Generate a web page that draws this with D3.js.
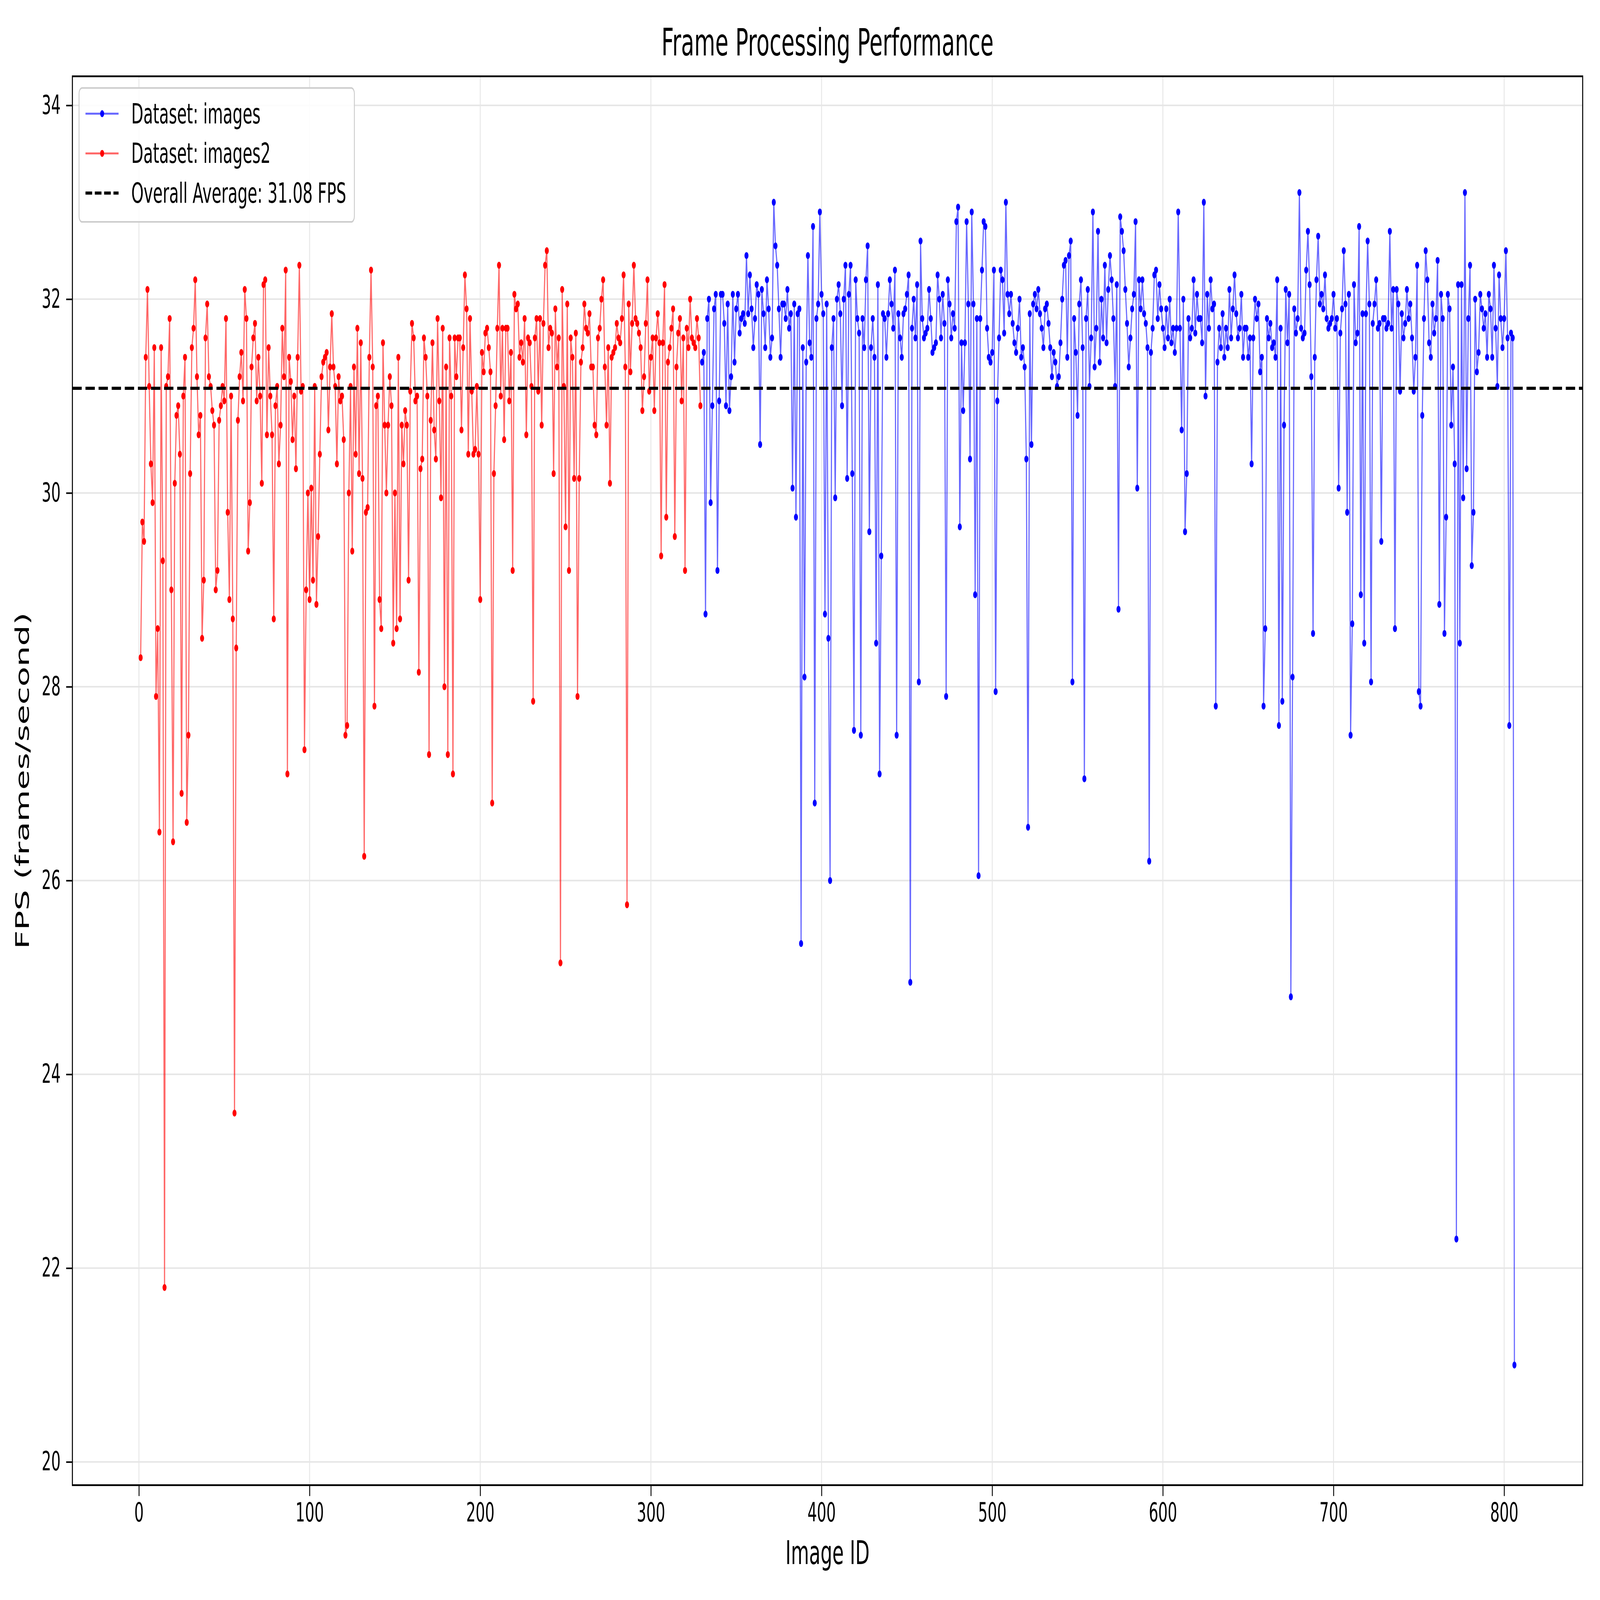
<!DOCTYPE html>
<html>
<head>
<meta charset="utf-8">
<script src="https://cdn.jsdelivr.net/npm/d3@7"></script>
<style>
  html, body { margin: 0; padding: 0; background: #ffffff; overflow: hidden; }
  #chart-container { width: 100vw; height: 100vh; }
  svg { display: block; width: 100vw; height: 100vh; }
  text { font-family: "DejaVu Sans", sans-serif; fill: #000; }
</style>
</head>
<body>
<div id="chart-container"></div>
<script>
// data (one FPS value per image id)
const images2StartId = 1;
const images2Fps = [
  28.3,29.7,29.5,31.4,32.1,31.1,30.3,29.9,31.5,27.9,
  28.6,26.5,31.5,29.3,21.8,31.1,31.2,31.8,29.0,26.4,
  30.1,30.8,30.9,30.4,26.9,31.0,31.4,26.6,27.5,30.2,
  31.5,31.7,32.2,31.2,30.6,30.8,28.5,29.1,31.6,31.95,
  31.2,31.1,30.85,30.7,29.0,29.2,30.75,30.9,31.1,30.95,
  31.8,29.8,28.9,31.0,28.7,23.6,28.4,30.75,31.2,31.45,
  30.95,32.1,31.8,29.4,29.9,31.3,31.6,31.75,30.95,31.4,
  31.0,30.1,32.15,32.2,30.6,31.5,31.0,30.6,28.7,30.9,
  31.1,30.3,30.7,31.7,31.2,32.3,27.1,31.4,31.15,30.55,
  31.0,30.25,31.4,32.35,31.05,31.1,27.35,29.0,30.0,28.9,
  30.05,29.1,31.1,28.85,29.55,30.4,31.2,31.35,31.4,31.45,
  30.65,31.3,31.85,31.3,31.1,30.3,31.2,30.95,31.0,30.55,
  27.5,27.6,30.0,31.1,29.4,31.3,30.4,31.7,30.2,31.55,
  30.15,26.25,29.8,29.85,31.4,32.3,31.3,27.8,30.9,31.0,
  28.9,28.6,31.55,30.7,30.0,30.7,31.2,30.9,28.45,30.0,
  28.6,31.4,28.7,30.7,30.3,30.85,30.7,29.1,31.05,31.75,
  31.6,30.95,31.0,28.15,30.25,30.35,31.6,31.4,31.0,27.3,
  30.75,31.55,30.65,30.35,31.8,30.95,29.95,31.7,28.0,31.3,
  27.3,31.6,31.0,27.1,31.6,31.2,31.6,31.6,30.65,31.5,
  32.25,31.9,30.4,31.8,31.05,30.4,30.45,31.1,30.4,28.9,
  31.45,31.25,31.65,31.7,31.5,31.25,26.8,30.2,30.9,31.7,
  32.35,31.0,31.7,30.55,31.7,31.7,30.95,31.45,29.2,32.05,
  31.9,31.95,31.4,31.55,31.35,31.8,30.6,31.6,31.55,31.1,
  27.85,31.6,31.8,31.05,31.8,30.7,31.75,32.35,32.5,31.5,
  31.7,31.65,30.2,31.9,31.3,31.6,25.15,32.1,31.1,29.65,
  31.95,29.2,31.6,31.4,30.15,31.65,27.9,30.15,31.35,31.5,
  31.95,31.7,31.65,31.85,31.3,31.3,30.7,30.6,31.6,31.7,
  32.0,32.2,31.3,30.7,31.5,30.1,31.4,31.45,31.5,31.75,
  31.6,31.55,31.8,32.25,31.3,25.75,31.95,31.25,31.75,32.35,
  31.8,31.75,31.65,31.5,30.85,31.2,31.75,32.2,31.05,31.4,
  31.6,30.85,31.6,31.85,31.55,29.35,31.55,32.15,29.75,31.35,
  31.5,31.7,31.9,29.55,31.3,31.65,31.8,30.95,31.6,29.2,
  31.7,31.5,32.0,31.6,31.55,31.5,31.8,31.6,30.9
];

const imagesStartId = 330;
const imagesFps = [
  31.35,31.45,28.75,31.8,32.0,29.9,30.9,31.9,32.05,29.2,
  30.95,32.05,32.05,31.75,30.9,31.95,30.85,31.2,32.05,31.35,
  31.9,32.05,31.65,31.8,31.85,31.75,32.45,31.85,32.25,31.9,
  31.5,31.8,32.15,32.05,30.5,32.1,31.85,31.5,32.2,31.9,
  31.4,31.6,33.0,32.55,32.35,31.9,31.4,31.95,31.95,31.8,
  32.1,31.7,31.85,30.05,31.95,29.75,31.85,31.9,25.35,31.5,
  28.1,31.35,32.45,31.55,31.4,32.75,26.8,31.8,31.95,32.9,
  32.05,31.85,28.75,31.95,28.5,26.0,31.5,31.8,29.95,32.0,
  32.15,31.85,30.9,32.0,32.35,30.15,32.05,32.35,30.2,27.55,
  32.2,31.8,31.65,27.5,31.8,31.5,32.2,32.55,29.6,31.5,
  31.8,31.4,28.45,32.15,27.1,29.35,31.85,31.8,31.4,31.85,
  32.2,31.95,31.7,32.3,27.5,31.85,31.6,31.4,31.85,31.9,
  32.05,32.25,24.95,31.7,32.0,31.6,32.15,28.05,32.6,31.8,
  31.6,31.65,31.7,32.1,31.8,31.45,31.5,31.55,32.25,32.0,
  31.6,32.05,31.75,27.9,32.2,31.95,31.6,31.85,31.7,32.8,
  32.95,29.65,31.55,30.85,31.55,32.8,31.95,30.35,32.9,31.95,
  28.95,31.8,26.05,31.8,32.3,32.8,32.75,31.7,31.4,31.35,
  31.45,32.3,27.95,30.95,31.6,32.3,32.2,31.65,33.0,32.05,
  31.85,32.05,31.75,31.55,31.45,31.7,32.0,31.4,31.5,31.3,
  30.35,26.55,31.85,30.5,31.95,32.05,31.9,32.1,31.85,31.7,
  31.5,31.9,31.95,31.75,31.5,31.2,31.45,31.35,31.1,31.2,
  31.55,32.0,32.35,32.4,31.4,32.45,32.6,28.05,31.8,31.45,
  30.8,31.95,32.2,31.5,27.05,31.8,32.1,31.1,31.6,32.9,
  31.3,31.7,32.7,31.35,32.0,31.6,32.35,31.55,32.1,32.45,
  32.2,31.8,31.1,32.15,28.8,32.85,32.7,32.5,32.1,31.75,
  31.3,31.6,31.9,32.05,32.8,30.05,32.2,31.9,32.2,31.85,
  31.75,31.5,26.2,31.45,31.7,32.25,32.3,31.8,32.15,31.9,
  31.7,31.5,31.9,31.6,32.0,31.55,31.7,31.45,31.7,32.9,
  31.7,30.65,32.0,29.6,30.2,31.8,31.6,31.7,32.2,31.65,
  32.05,31.8,31.8,31.55,33.0,31.0,32.05,31.7,32.2,31.9,
  31.95,27.8,31.35,31.7,31.5,31.85,31.4,31.7,31.5,32.1,
  31.6,31.9,32.25,31.85,31.6,31.7,32.05,31.4,31.7,31.7,
  31.4,31.6,30.3,31.6,32.0,31.8,31.95,31.25,31.4,27.8,
  28.6,31.8,31.6,31.75,31.5,31.55,31.4,32.2,27.6,31.7,
  27.85,30.7,32.1,31.55,32.05,24.8,28.1,31.9,31.65,31.8,
  33.1,31.7,31.6,31.65,32.3,32.7,32.15,31.2,28.55,31.4,
  32.2,32.65,31.95,32.05,31.9,32.25,31.8,31.7,31.75,31.8,
  32.05,31.7,31.8,30.05,31.65,31.9,32.5,31.95,29.8,32.05,
  27.5,28.65,32.15,31.55,31.65,32.75,28.95,31.85,28.45,31.85,
  32.6,31.95,28.05,31.75,31.95,32.2,31.7,31.75,29.5,31.8,
  31.8,31.7,31.75,32.7,31.7,32.1,28.6,32.1,31.95,31.05,
  31.85,31.6,31.75,32.1,31.8,31.95,31.6,31.05,31.4,32.35,
  27.95,27.8,30.8,31.8,32.5,32.2,31.55,31.4,31.95,31.65,
  31.8,32.4,28.85,32.05,31.8,28.55,29.75,32.05,31.9,30.7,
  31.3,30.3,22.3,32.15,28.45,32.15,29.95,33.1,30.25,31.8,
  32.35,29.25,29.8,32.0,31.25,31.45,32.05,31.9,31.7,31.85,
  31.4,32.05,31.9,31.4,32.35,31.7,31.1,32.25,31.8,31.5,
  31.8,32.5,31.6,27.6,31.65,31.6,21.0
];

const overallAverage = 31.08;
const xTickValues = [0, 100, 200, 300, 400, 500, 600, 700, 800];
const yTickValues = [20, 22, 24, 26, 28, 30, 32, 34];
const legendLabels = [
  "Dataset: images",
  "Dataset: images2",
  "Overall Average: 31.08 FPS"
];

/** CONSTANTS */
// drawing units match the 7206 x 4110 reference; the viewBox stretches it over the window
const width = 7206,
  height = 4110;
let margin = { top: 196, bottom: 295, left: 326, right: 78 };
const colors = { images: "#0000ff", images2: "#ff0000" };

const toPoints = (arr, start) => arr.map((v, i) => ({ id: start + i, fps: v }));
const imagesData = toPoints(imagesFps, imagesStartId);
const images2Data = toPoints(images2Fps, images2StartId);

/** SCALES */
const xScale = d3
  .scaleLinear()
  .domain([-39, 846])
  .range([margin.left, width - margin.right]);

const yScale = d3
  .scaleLinear()
  .domain([19.76, 34.3])
  .range([height - margin.bottom, margin.top]);

/** MAIN CODE */
const svg = d3
  .select("#chart-container")
  .append("svg")
  .attr("viewBox", `0 0 ${width} ${height}`)
  .attr("preserveAspectRatio", "none");

svg.append("rect").attr("width", width).attr("height", height).attr("fill", "#ffffff");

// grid
const grid = svg.append("g").attr("class", "grid");
grid
  .selectAll("line.vgrid")
  .data(xTickValues)
  .join("line")
  .attr("class", "vgrid")
  .attr("x1", (d) => xScale(d))
  .attr("x2", (d) => xScale(d))
  .attr("y1", margin.top)
  .attr("y2", height - margin.bottom)
  .attr("stroke", "#e6e6e6")
  .attr("stroke-width", 4);
grid
  .selectAll("line.hgrid")
  .data(yTickValues)
  .join("line")
  .attr("class", "hgrid")
  .attr("y1", (d) => yScale(d))
  .attr("y2", (d) => yScale(d))
  .attr("x1", margin.left)
  .attr("x2", width - margin.right)
  .attr("stroke", "#e6e6e6")
  .attr("stroke-width", 4);

// series
const line = d3
  .line()
  .x((d) => xScale(d.id))
  .y((d) => yScale(d.fps));

const series = [
  { key: "images", data: imagesData },
  { key: "images2", data: images2Data }
];

series.forEach((s) => {
  const g = svg.append("g").attr("class", "series-" + s.key);
  g.append("path")
    .datum(s.data)
    .attr("d", line)
    .attr("fill", "none")
    .attr("stroke", colors[s.key])
    .attr("stroke-opacity", 0.6)
    .attr("stroke-width", 5)
    .attr("stroke-linejoin", "round");
  g.selectAll("circle")
    .data(s.data)
    .join("circle")
    .attr("cx", (d) => xScale(d.id))
    .attr("cy", (d) => yScale(d.fps))
    .attr("r", 9)
    .attr("fill", colors[s.key]);
});

// overall average
svg
  .append("line")
  .attr("class", "avg")
  .attr("x1", margin.left)
  .attr("x2", width - margin.right)
  .attr("y1", yScale(overallAverage))
  .attr("y2", yScale(overallAverage))
  .attr("stroke", "#000")
  .attr("stroke-width", 8)
  .attr("stroke-dasharray", "42,17");

/** AXIS */
const xAxis = d3.axisBottom(xScale).tickValues(xTickValues).tickSize(28).tickPadding(18);
const yAxis = d3.axisLeft(yScale).tickValues(yTickValues).tickSize(28).tickPadding(25);

const gx = svg
  .append("g")
  .attr("class", "x axis")
  .attr("transform", `translate(0,${height - margin.bottom})`)
  .call(xAxis);
const gy = svg
  .append("g")
  .attr("class", "y axis")
  .attr("transform", `translate(${margin.left},0)`)
  .call(yAxis);

[gx, gy].forEach((g) => {
  g.select(".domain").remove();
  g.selectAll(".tick line").attr("stroke", "#000").attr("stroke-width", 4);
  g.selectAll(".tick text")
    .attr("font-size", 67)
    .attr("font-family", "DejaVu Sans")
    .attr("fill", "#000");
});

// frame
svg
  .append("rect")
  .attr("x", margin.left)
  .attr("y", margin.top)
  .attr("width", width - margin.left - margin.right)
  .attr("height", height - margin.top - margin.bottom)
  .attr("fill", "none")
  .attr("stroke", "#000")
  .attr("stroke-width", 4.5);

// labels
svg
  .append("text")
  .attr("class", "title")
  .attr("x", (margin.left + width - margin.right) / 2)
  .attr("y", 143)
  .attr("text-anchor", "middle")
  .attr("font-size", 97)
  .text("Frame Processing Performance");

svg
  .append("text")
  .attr("class", "axis-label")
  .attr("x", (margin.left + width - margin.right) / 2)
  .attr("y", 4018)
  .attr("text-anchor", "middle")
  .attr("font-size", 84)
  .text("Image ID");

svg
  .append("text")
  .attr("class", "axis-label")
  .attr("transform", `translate(130,${(margin.top + height - margin.bottom) / 2}) rotate(-90)`)
  .attr("text-anchor", "middle")
  .attr("font-size", 84)
  .text("FPS (frames/second)");

/** LEGEND */
const legend = svg.append("g").attr("class", "legend").attr("transform", "translate(356,226)");
legend
  .append("rect")
  .attr("width", 1240)
  .attr("height", 344)
  .attr("rx", 14)
  .attr("fill", "#ffffff")
  .attr("fill-opacity", 0.85)
  .attr("stroke", "#cccccc")
  .attr("stroke-width", 4);

const legendItems = [
  { label: legendLabels[0], color: colors.images, dashed: false },
  { label: legendLabels[1], color: colors.images2, dashed: false },
  { label: legendLabels[2], color: "#000", dashed: true }
];

const rowY = d3.scalePoint().domain(legendLabels).range([66, 270]);

legendItems.forEach((item) => {
  const y = rowY(item.label);
  const row = legend.append("g").attr("transform", `translate(0,${y})`);
  row
    .append("line")
    .attr("x1", 29)
    .attr("x2", 178)
    .attr("stroke", item.color)
    .attr("stroke-width", item.dashed ? 8 : 5)
    .attr("stroke-opacity", item.dashed ? 1 : 0.6)
    .attr("stroke-dasharray", item.dashed ? "30,12" : null);
  if (!item.dashed) {
    row.append("circle").attr("cx", 104).attr("r", 9).attr("fill", item.color);
  }
  row
    .append("text")
    .attr("x", 235)
    .attr("dy", "0.35em")
    .attr("font-size", 71)
    .text(item.label);
});
</script>
</body>
</html>
